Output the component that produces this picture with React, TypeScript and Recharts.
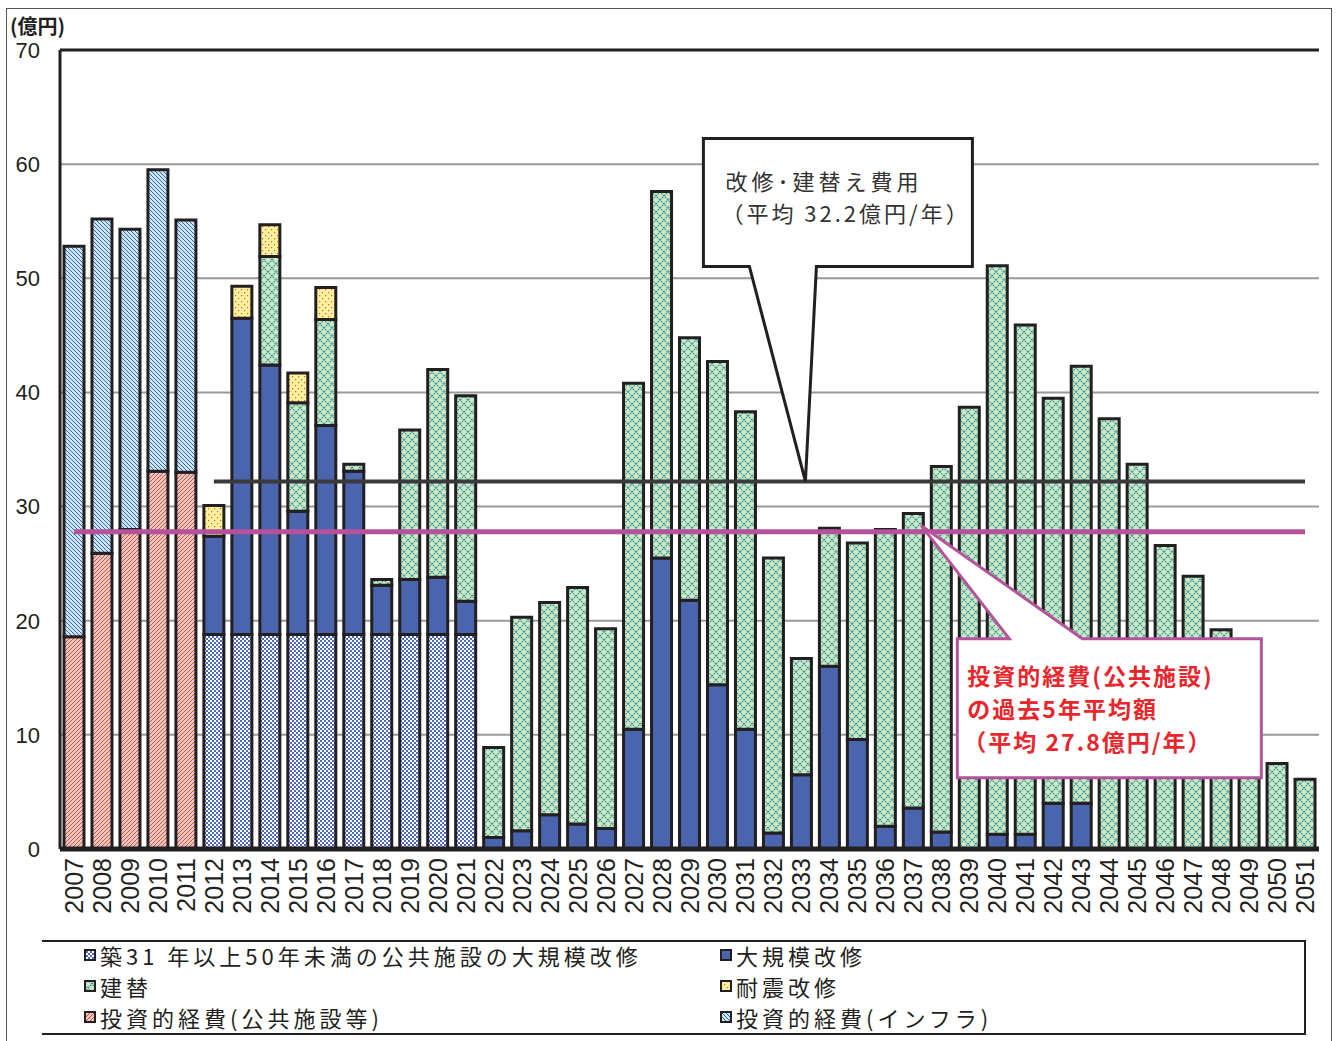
import React from 'react';
import {
  BarChart,
  Bar,
  XAxis,
  YAxis,
  CartesianGrid,
  ReferenceLine,
  ReferenceDot,
} from 'recharts';

const years = [
  '2007', '2008', '2009', '2010', '2011', '2012', '2013', '2014', '2015',
  '2016', '2017', '2018', '2019', '2020', '2021', '2022', '2023', '2024',
  '2025', '2026', '2027', '2028', '2029', '2030', '2031', '2032', '2033',
  '2034', '2035', '2036', '2037', '2038', '2039', '2040', '2041', '2042',
  '2043', '2044', '2045', '2046', '2047', '2048', '2049', '2050', '2051',
];

// 投資的経費（公共施設等） 2007-2011
const kokyo = [18.6, 25.9, 28.0, 33.1, 33.0];
// 投資的経費（インフラ） 2007-2011
const infra = [34.2, 29.3, 26.3, 26.4, 22.1];
// 築31年以上50年未満の公共施設の大規模改修 2012-2021
const chiku = [18.8, 18.8, 18.8, 18.8, 18.8, 18.8, 18.8, 18.8, 18.8, 18.8];
// 大規模改修 2012-2051
const daikibo = [
  8.6, 27.7, 23.6, 10.8, 18.3, 14.3, 4.3, 4.8, 5.0, 2.9,
  1.0, 1.6, 3.0, 2.2, 1.8, 10.5, 25.5, 21.8, 14.4, 10.5,
  1.4, 6.5, 16.0, 9.6, 2.0, 3.6, 1.5, 0, 1.3, 1.3,
  4.0, 4.0, 0, 0, 0, 0, 0, 0, 0, 0,
];
// 建替 2012-2051
const tatekae = [
  0, 0, 9.5, 9.5, 9.3, 0.6, 0.5, 13.1, 18.2, 18.0,
  7.9, 18.7, 18.6, 20.7, 17.5, 30.3, 32.1, 23.0, 28.3, 27.8,
  24.1, 10.2, 12.1, 17.2, 26.0, 25.8, 32.0, 38.7, 49.8, 44.6,
  35.5, 38.3, 37.7, 33.7, 26.6, 23.9, 19.2, 9.9, 7.5, 6.1,
];
// 耐震改修 2012-2016
const taishin = [2.7, 2.8, 2.8, 2.6, 2.8];

const yTicks = [0, 10, 20, 30, 40, 50, 60, 70];
const avgRenewal = 32.2;
const avgPast = 27.8;

const data = years.map((year, i) => ({
  year,
  kokyo: kokyo[i] ?? 0,
  infra: infra[i] ?? 0,
  chiku: chiku[i - 5] ?? 0,
  daikibo: daikibo[i - 5] ?? 0,
  tatekae: tatekae[i - 5] ?? 0,
  taishin: taishin[i - 5] ?? 0,
}));

// boundaries between year columns, used for the small ticks under the axis
const boundaryTicks = years.map((_, i) => i).concat([years.length]);

const STROKE = '#231f20';
const NUM_FONT = '"Liberation Sans", Arial, sans-serif';
const JP_FONT = '"Noto Sans CJK JP", "Noto Sans", sans-serif';

const series = [
  { key: 'kokyo', fill: 'url(#pKokyo)', label: '投資的経費(公共施設等)' },
  { key: 'chiku', fill: 'url(#pChiku)', label: '築31 年以上50年未満の公共施設の大規模改修' },
  { key: 'daikibo', fill: '#4a65ad', label: '大規模改修' },
  { key: 'tatekae', fill: 'url(#pTatekae)', label: '建替' },
  { key: 'taishin', fill: 'url(#pTaishin)', label: '耐震改修' },
  { key: 'infra', fill: 'url(#pInfra)', label: '投資的経費(インフラ)' },
];

const legendOrder = [
  ['chiku', 'daikibo'],
  ['tatekae', 'taishin'],
  ['kokyo', 'infra'],
];

function Patterns() {
  return (
    <svg width={0} height={0} style={{ position: 'absolute' }}>
      <defs>
        <pattern id="pKokyo" width="4" height="4" patternUnits="userSpaceOnUse">
          <rect width="4" height="4" fill="#f8c6a2" />
          <path d="M0,4 L4,0 M-1,1 L1,-1 M3,5 L5,3" stroke="#a8519d" strokeWidth="1" />
        </pattern>
        <pattern id="pInfra" width="4" height="4" patternUnits="userSpaceOnUse">
          <rect width="4" height="4" fill="#cbe8f6" />
          <path d="M0,0 L4,4 M-1,3 L1,5 M3,-1 L5,1" stroke="#3b5caa" strokeWidth="1" />
        </pattern>
        <pattern id="pChiku" width="4" height="4" patternUnits="userSpaceOnUse">
          <rect width="4" height="4" fill="#ffffff" />
          <rect x="0" y="0" width="2" height="2" fill="#4d6cbd" />
          <rect x="2" y="2" width="2" height="2" fill="#4d6cbd" />
        </pattern>
        <pattern id="pTaishin" width="6" height="6" patternUnits="userSpaceOnUse">
          <rect width="6" height="6" fill="#fcf19c" />
          <rect x="1" y="1" width="1.2" height="1.2" fill="#ee5a2e" />
          <rect x="4" y="4" width="1.2" height="1.2" fill="#ee5a2e" />
        </pattern>
        <pattern id="pTatekae" width="8" height="8" patternUnits="userSpaceOnUse">
          <rect width="8" height="8" fill="#cde8c9" />
          <path
            d="M0,4 L4,0 L8,4 L4,8 Z"
            fill="none"
            stroke="#1e8783"
            strokeWidth="1.1"
            strokeDasharray="1.5 1"
          />
        </pattern>
      </defs>
    </svg>
  );
}

const YearTick = ({ x, y, payload }: any) => (
  <text
    x={x}
    y={y}
    transform={`rotate(-90 ${x} ${y})`}
    textAnchor="end"
    dy="0.36em"
    fontSize={25}
    fontFamily={NUM_FONT}
    fill={STROKE}
  >
    {payload.value}
  </text>
);

// 改修・建替え費用 callout, anchored on the 32.2 line
const RenewalCallout = ({ cx, cy }: any) => {
  const ax = cx + 4;
  const left = cx - 98;
  const right = cx + 171;
  const top = cy - 343;
  const bottom = cy - 215;
  return (
    <g>
      <path
        d={`M${left},${top} H${right} V${bottom} H${cx + 15} L${ax},${cy} L${cx - 52},${bottom} H${left} Z`}
        fill="#fff"
        stroke={STROKE}
        strokeWidth={3}
        strokeLinejoin="miter"
      />
      <text
        x={left + 22}
        y={top + 52}
        fontSize={22}
        letterSpacing={4}
        fontFamily={JP_FONT}
        fill="#333"
      >
        改修･建替え費用
      </text>
      <text
        x={left + 18}
        y={top + 84}
        fontSize={22}
        letterSpacing={3}
        fontFamily={JP_FONT}
        fill="#333"
      >
        （平均 32.2億円/年）
      </text>
    </g>
  );
};

// 過去5年平均額 callout, anchored on the 27.8 line
const PastCallout = ({ cx, cy }: any) => {
  const ax = cx + 8;
  const ay = cy - 6;
  const left = cx + 44;
  const right = cx + 348;
  const top = cy + 107;
  const bottom = cy + 246;
  const red = '#e8262c';
  return (
    <g>
      <path
        d={`M${left},${top} H${cx + 96} L${ax},${ay} L${cx + 169},${top} H${right} V${bottom} H${left} Z`}
        fill="#fff"
        stroke="#b5529c"
        strokeWidth={3}
      />
      <g fontSize={23} letterSpacing={2} fontFamily={JP_FONT} fill={red} fontWeight={700}>
        <text x={left + 10} y={top + 46}>投資的経費(公共施設)</text>
        <text x={left + 10} y={top + 79}>の過去5年平均額</text>
        <text x={left + 6} y={top + 112}>（平均 27.8億円/年）</text>
      </g>
    </g>
  );
};

function LegendMark({ fill }: { fill: string }) {
  return (
    <svg width={12} height={12} style={{ marginRight: 4, flex: 'none' }}>
      <rect x={1} y={1} width={10} height={10} fill={fill} stroke={STROKE} strokeWidth={2} />
    </svg>
  );
}

export default function App() {
  const byKey = Object.fromEntries(series.map((s) => [s.key, s]));
  return (
    <div
      style={{
        position: 'absolute',
        left: 0,
        top: 0,
        width: 1336,
        height: 1041,
        background: '#fff',
        overflow: 'hidden',
      }}
    >
      <Patterns />
      <div
        style={{
          position: 'absolute',
          left: 6,
          top: 8,
          width: 1324,
          height: 1060,
          border: '1.5px solid #555',
        }}
      />
      <div
        style={{
          position: 'absolute',
          left: 10,
          top: 11,
          fontFamily: JP_FONT,
          fontSize: 20,
          fontWeight: 700,
          color: STROKE,
        }}
      >
        (億円)
      </div>
      <div style={{ position: 'absolute', left: 0, top: 0 }}>
        <BarChart
          width={1336}
          height={940}
          data={data}
          margin={{ top: 50, right: 17, left: 0, bottom: 11 }}
          barSize={20}
        >
          <CartesianGrid vertical={false} stroke="#999" strokeWidth={2} />
          <XAxis
            xAxisId="bounds"
            type="number"
            domain={[0, years.length]}
            ticks={boundaryTicks}
            allowDataOverflow
            height={0}
            tick={false}
            tickSize={8}
            tickLine={{ stroke: STROKE, strokeWidth: 2 }}
            axisLine={false}
          />
          <XAxis
            dataKey="year"
            interval={0}
            height={80}
            tick={<YearTick />}
            tickLine={false}
            tickSize={0}
            tickMargin={9}
            axisLine={{ stroke: STROKE, strokeWidth: 5 }}
          />
          <YAxis
            domain={[0, 70]}
            ticks={yTicks}
            width={60}
            tickLine={false}
            tickSize={0}
            tickMargin={20}
            axisLine={{ stroke: STROKE, strokeWidth: 3 }}
            tick={{ fontSize: 22, fontFamily: NUM_FONT, fill: STROKE }}
          />
          <ReferenceLine y={70} stroke={STROKE} strokeWidth={3} />
          <ReferenceLine xAxisId="bounds" x={years.length} stroke={STROKE} strokeWidth={2} />
          {series.map((s) => (
            <Bar
              key={s.key}
              dataKey={s.key}
              name={s.label}
              stackId="cost"
              fill={s.fill}
              stroke={STROKE}
              strokeWidth={3}
              isAnimationActive={false}
            />
          ))}
          <ReferenceLine
            segment={[
              { x: '2012', y: avgRenewal },
              { x: '2051', y: avgRenewal },
            ]}
            stroke="#3a3a3a"
            strokeWidth={4}
          />
          <ReferenceLine
            segment={[
              { x: '2007', y: avgPast },
              { x: '2051', y: avgPast },
            ]}
            stroke="#b5529c"
            strokeWidth={5}
          />
          <ReferenceDot x="2033" y={avgRenewal} r={0} shape={<RenewalCallout />} />
          <ReferenceDot x="2037" y={avgPast} r={0} shape={<PastCallout />} />
        </BarChart>
      </div>
      <div
        style={{
          position: 'absolute',
          left: 42,
          top: 940,
          width: 1262,
          height: 91,
          borderTop: `2px solid ${STROKE}`,
          borderBottom: `2px solid ${STROKE}`,
          borderRight: `2px solid ${STROKE}`,
          fontFamily: JP_FONT,
          fontSize: 22,
          letterSpacing: 4,
          color: STROKE,
        }}
      >
        {legendOrder.map((row, r) => (
          <div
            key={r}
            style={{ position: 'absolute', top: -2 + r * 31, left: 0, width: '100%', height: 30 }}
          >
            {row.map((k, c) => (
              <div
                key={k}
                style={{
                  position: 'absolute',
                  left: c === 0 ? 42 : 678,
                  top: 0,
                  height: 30,
                  display: 'flex',
                  alignItems: 'center',
                  whiteSpace: 'nowrap',
                }}
              >
                <LegendMark fill={byKey[k].fill} />
                <span>{byKey[k].label}</span>
              </div>
            ))}
          </div>
        ))}
      </div>
    </div>
  );
}
